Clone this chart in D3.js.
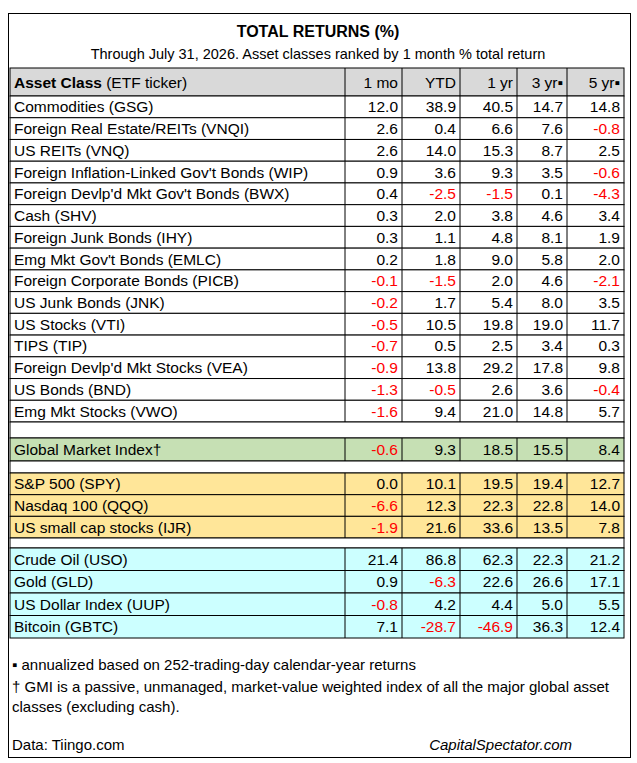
<!DOCTYPE html>
<html><head><meta charset="utf-8">
<script src="https://cdn.jsdelivr.net/npm/d3@7"></script>
<style>body{margin:0;background:#fff}text{font-family:"Liberation Sans",Arial,sans-serif}</style>
</head><body><svg id="c" width="637" height="763"></svg>
<script>
const columns = ["1 mo","YTD","1 yr","3 yr▪","5 yr▪"];
const mainNames = ["Commodities (GSG)","Foreign Real Estate/REITs (VNQI)","US REITs (VNQ)","Foreign Inflation-Linked Gov't Bonds (WIP)","Foreign Devlp'd Mkt Gov't Bonds (BWX)","Cash (SHV)","Foreign Junk Bonds (IHY)","Emg Mkt Gov't Bonds (EMLC)","Foreign Corporate Bonds (PICB)","US Junk Bonds (JNK)","US Stocks (VTI)","TIPS (TIP)","Foreign Devlp'd Mkt Stocks (VEA)","US Bonds (BND)","Emg Mkt Stocks (VWO)"];
const mainValues = [[12.0,38.9,40.5,14.7,14.8],[2.6,0.4,6.6,7.6,-0.8],[2.6,14.0,15.3,8.7,2.5],[0.9,3.6,9.3,3.5,-0.6],[0.4,-2.5,-1.5,0.1,-4.3],[0.3,2.0,3.8,4.6,3.4],[0.3,1.1,4.8,8.1,1.9],[0.2,1.8,9.0,5.8,2.0],[-0.1,-1.5,2.0,4.6,-2.1],[-0.2,1.7,5.4,8.0,3.5],[-0.5,10.5,19.8,19.0,11.7],[-0.7,0.5,2.5,3.4,0.3],[-0.9,13.8,29.2,17.8,9.8],[-1.3,-0.5,2.6,3.6,-0.4],[-1.6,9.4,21.0,14.8,5.7]];
const gmiNames = ["Global Market Index†"];
const gmiValues = [[-0.6,9.3,18.5,15.5,8.4]];
const usNames = ["S&P 500 (SPY)","Nasdaq 100 (QQQ)","US small cap stocks (IJR)"];
const usValues = [[0.0,10.1,19.5,19.4,12.7],[-6.6,12.3,22.3,22.8,14.0],[-1.9,21.6,33.6,13.5,7.8]];
const otherNames = ["Crude Oil (USO)","Gold (GLD)","US Dollar Index (UUP)","Bitcoin (GBTC)"];
const otherValues = [[21.4,86.8,62.3,22.3,21.2],[0.9,-6.3,22.6,26.6,17.1],[-0.8,4.2,4.4,5.0,5.5],[7.1,-28.7,-46.9,36.3,12.4]];

const svg = d3.select("#c");
const L=10, R=624;
const colX = [345,402,460,517,567,624];
svg.append("rect").attr("x",8.5).attr("y",13.5).attr("width",622).attr("height",744).attr("fill","none").attr("stroke","#000");
svg.append("text").attr("x",318).attr("y",37).attr("text-anchor","middle").attr("font-size",16).attr("font-weight","bold").text("TOTAL RETURNS (%)");
svg.append("text").attr("x",318).attr("y",59).attr("text-anchor","middle").attr("font-size",14.5).text("Through July 31, 2026. Asset classes ranked by 1 month % total return");

function row(y,h,fill,label,vals,header){
  svg.append("rect").attr("x",L).attr("y",y).attr("width",R-L).attr("height",h).attr("fill",fill).attr("stroke","#000").attr("stroke-width",1);
  colX.slice(0,5).forEach(x=>svg.append("line").attr("x1",x).attr("x2",x).attr("y1",y).attr("y2",y+h).attr("stroke","#000"));
  const ty=y+h/2+5.5;
  if(header){
    const t=svg.append("text").attr("x",L+4).attr("y",ty).attr("font-size",15.5);
    t.append("tspan").attr("font-weight","bold").text("Asset Class");
    t.append("tspan").text(" (ETF ticker)");
    columns.forEach((c,i)=>svg.append("text").attr("x",colX[i+1]-4).attr("y",ty).attr("text-anchor","end").attr("font-size",15.5).text(c));
  } else {
    svg.append("text").attr("x",L+4).attr("y",ty).attr("font-size",15.5).text(label);
    vals.forEach((v,i)=>svg.append("text").attr("x",colX[i+1]-4).attr("y",ty).attr("text-anchor","end").attr("font-size",15.5).attr("fill",v<0?"#ff0000":"#000").text(v.toFixed(1)));
  }
}
function blank(y,h){
  svg.append("rect").attr("x",L).attr("y",y).attr("width",R-L).attr("height",h).attr("fill","#fff").attr("stroke","#000");
}
row(68,28,"#d9d9d9",null,null,true);
const yMain=d3.scaleBand().domain(d3.range(mainNames.length)).range([96,422]);
mainNames.forEach((n,i)=>row(yMain(i),yMain.bandwidth(),"#fff",n,mainValues[i]));
blank(422,16);
row(438,23,"#c6e0b4",gmiNames[0],gmiValues[0]);
blank(461,12);
const yUS=d3.scaleBand().domain(d3.range(usNames.length)).range([473,538]);
usNames.forEach((n,i)=>row(yUS(i),yUS.bandwidth(),"#ffe699",n,usValues[i]));
blank(538,10);
const yO=d3.scaleBand().domain(d3.range(otherNames.length)).range([548,638]);
otherNames.forEach((n,i)=>row(yO(i),yO.bandwidth(),"#ccffff",n,otherValues[i]));

const foot=[["▪ annualized based on 252-trading-day calendar-year returns",670],["† GMI is a passive, unmanaged, market-value weighted index of all the major global asset",692],["classes (excluding cash).",712]];
foot.forEach(f=>svg.append("text").attr("x",12).attr("y",f[1]).attr("font-size",15).text(f[0]));
svg.append("text").attr("x",12).attr("y",750).attr("font-size",15).text("Data: Tiingo.com");
svg.append("text").attr("x",572).attr("y",750).attr("text-anchor","end").attr("font-size",15).attr("font-style","italic").text("CapitalSpectator.com");
</script></body></html>
